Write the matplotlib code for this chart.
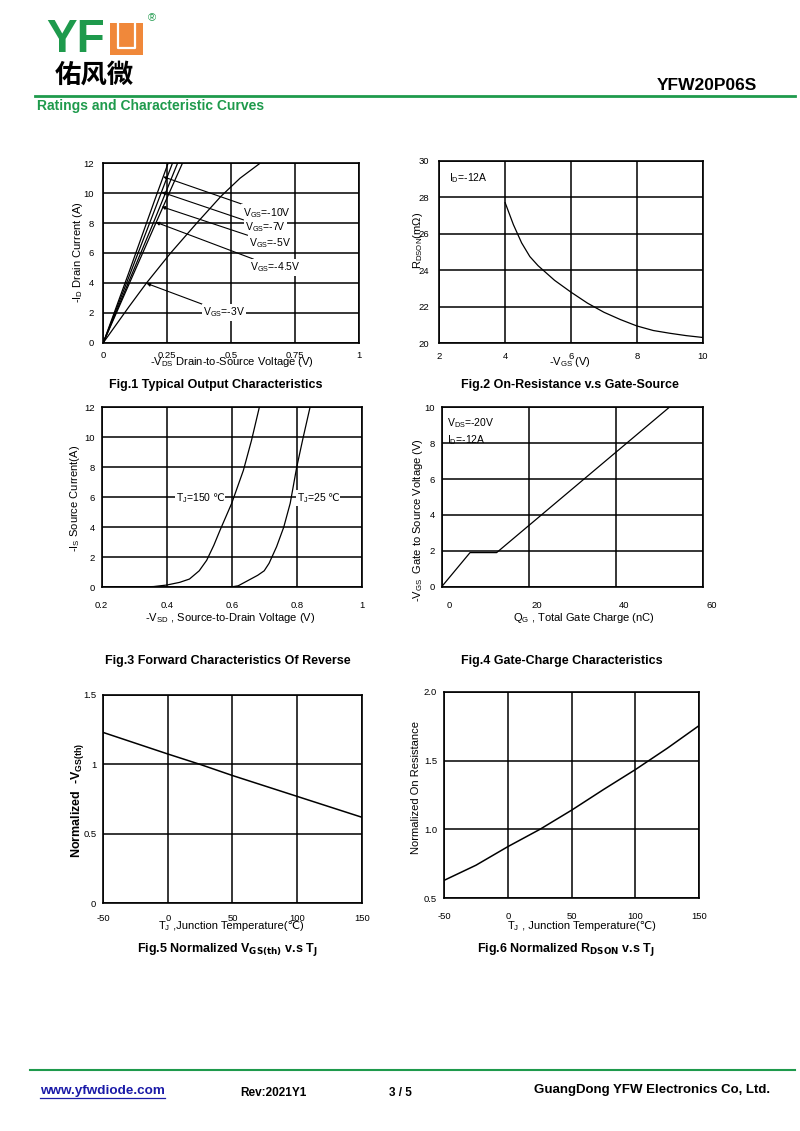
import numpy as np
import matplotlib
matplotlib.use("Agg")
import matplotlib.pyplot as plt
import matplotlib.patches as mpatches
import matplotlib.transforms as mtransforms

plt.rcParams['font.family'] = ['Liberation Sans', 'DejaVu Sans']
plt.rcParams['mathtext.fontset'] = 'custom'
plt.rcParams['mathtext.rm'] = 'Liberation Sans'
plt.rcParams['axes.unicode_minus'] = False

GREEN = '#1e9a4c'
ORANGE = '#f0883a'

# ---- data ----
# Fig.1 output characteristics (-VDS in V, -ID in A)
vds_10 = [0, 0.1, 0.2, 0.253]
id_10 = [0, 4.7, 9.5, 12]
vds_7 = [0, 0.1, 0.2, 0.27]
id_7 = [0, 4.4, 8.85, 12]
vds_5 = [0, 0.1, 0.2, 0.29]
id_5 = [0, 4.1, 8.2, 12]
vds_45 = [0, 0.1, 0.2, 0.309]
id_45 = [0, 3.9, 7.8, 12]
vds_3 = [0, 0.1, 0.169, 0.263, 0.365, 0.46, 0.534, 0.612]
id_3 = [0, 2.4, 4.0, 6.0, 8.0, 9.8, 11.0, 12.0]
fig1_labels = ['-10V', '-7V', '-5V', '-4.5V', '-3V']
fig1_tips = [(0.234, 11.1), (0.228, 10.07), (0.228, 9.1), (0.205, 8.06), (0.169, 3.97)]
fig1_textpos = [(0.544, 8.7), (0.553, 7.72), (0.569, 6.69), (0.573, 5.04), (0.39, 2.03)]

# Fig.2 RDS(on) vs -VGS
vgs2 = [4, 4.25, 4.5, 4.75, 5, 5.5, 6, 6.5, 7, 7.5, 8, 8.5, 9, 9.5, 10]
rds2 = [27.7, 26.5, 25.5, 24.75, 24.25, 23.45, 22.8, 22.2, 21.7, 21.3, 20.95, 20.7, 20.55, 20.42, 20.32]

# Fig.3 body diode forward characteristics
vsd_150 = [0.2, 0.3, 0.36, 0.4, 0.44, 0.47, 0.5, 0.523, 0.545, 0.564, 0.6, 0.636, 0.661, 0.685]
is_150 = [0, 0.01, 0.05, 0.15, 0.33, 0.55, 1.1, 1.8, 2.8, 3.8, 5.6, 7.8, 9.8, 12]
vsd_25 = [0.2, 0.5, 0.58, 0.6, 0.62, 0.65, 0.68, 0.7, 0.715, 0.738, 0.76, 0.78, 0.8, 0.82, 0.841]
is_25 = [0, 0, 0, 0.03, 0.1, 0.45, 0.8, 1.1, 1.6, 2.7, 4.0, 5.6, 8.0, 10.0, 12]

# Fig.4 gate charge
qg4 = [0, 6.5, 12.6, 52.2]
vgs4 = [0, 1.9, 1.9, 10]

# Fig.5 normalized VGS(th)
tj5 = [-50, 0, 25, 50, 100, 150]
vth5 = [1.23, 1.075, 1.0, 0.92, 0.77, 0.62]

# Fig.6 normalized RDS(on)
tj6 = [-50, -25, 0, 25, 50, 75, 100, 125, 150]
ron6 = [0.63, 0.74, 0.875, 1.0, 1.14, 1.29, 1.435, 1.59, 1.755]

W, H = 800, 1131
fig = plt.figure(figsize=(W / 100, H / 100), dpi=100)


def fpos(x, y):
    return x / W, 1 - y / H


def make_ax(L, R, T, B):
    ax = fig.add_axes([L / W, 1 - B / H, (R - L) / W, (B - T) / H])
    ax.grid(True, color='black', lw=1.1)
    ax.set_axisbelow(True)
    for s in ax.spines.values():
        s.set_linewidth(1.2)
    ax.tick_params(length=0, labelsize=6.8)
    return ax


def ftext(x, y, s, **kw):
    kw.setdefault('ha', 'center')
    kw.setdefault('va', 'center')
    return fig.text(*fpos(x, y), s, **kw)


# math part followed by a plain part (℃ only exists in the plain fonts)
def split_text(ax, first, rest, x, y, coords, size, box=False):
    bb = dict(fc='white', ec='none', pad=1) if box else None
    t1 = ax.annotate(first, xy=(x, y), xycoords=coords, fontsize=size, ha='left',
                     va='baseline', bbox=bb, annotation_clip=False, zorder=5)
    ax.annotate(rest, xy=(1, y), xycoords=(t1, coords), fontsize=size, ha='left',
                va='baseline', bbox=bb, annotation_clip=False, zorder=4)


# ---- header ----
ftext(46, 40, 'YF', fontsize=33, fontweight='bold', color=GREEN, ha='left')
fig.patches.append(mpatches.Rectangle(fpos(110, 55), 33 / W, 32 / H, transform=fig.transFigure,
                                      fc=ORANGE, ec='none'))
ux = [118 / W, 118 / W, 135 / W, 135 / W]
uy = [1 - 23 / H, 1 - 48 / H, 1 - 48 / H, 1 - 23 / H]
fig.lines.append(plt.Line2D(ux, uy, transform=fig.transFigure, color='white', lw=1.6))
ftext(152, 18, '®', fontsize=8, color=GREEN)
ftext(55, 75, '佑风微', fontsize=19, fontweight='bold', ha='left',
      family=['Noto Sans CJK SC', 'DejaVu Sans'])
ftext(757, 85, 'YFW20P06S', fontsize=12.5, fontweight='bold', ha='right')
fig.lines.append(plt.Line2D([35 / W, 795 / W], [1 - 96 / H] * 2, transform=fig.transFigure,
                            color=GREEN, lw=2))
ftext(37, 106, 'Ratings and Characteristic Curves', fontsize=10, fontweight='bold',
      color=GREEN, ha='left')

# ---- Fig.1 ----
ax1 = make_ax(103.3, 359.3, 163.3, 342.7)
for vx, iy in [(vds_10, id_10), (vds_7, id_7), (vds_5, id_5), (vds_45, id_45), (vds_3, id_3)]:
    ax1.plot(vx, iy, color='black', lw=0.9)
ax1.set_xlim(0, 1)
ax1.set_ylim(0, 12)
ax1.set_xticks([0, 0.25, 0.5, 0.75, 1])
ax1.set_xticklabels(['0', '0.25', '0.5', '0.75', '1'])
ax1.set_yticks(range(0, 13, 2))
ax1.tick_params(axis='x', pad=6)
ax1.tick_params(axis='y', pad=7)
for lab, tip, tp in zip(fig1_labels, fig1_tips, fig1_textpos):
    ax1.annotate('V$_\\mathregular{GS}$=' + lab, xy=tip, xytext=tp, fontsize=7.5,
                 ha='left', va='center',
                 bbox=dict(fc='white', ec='none', pad=1),
                 arrowprops=dict(arrowstyle='-|>', color='black', lw=0.8,
                                 mutation_scale=5, shrinkA=0, shrinkB=0))
ftext(78, 252, '-I$_\\mathregular{D}$ Drain Current (A)', fontsize=8, rotation=90)
ftext(232, 362, '-V$_\\mathregular{DS}$ Drain-to-Source Voltage (V)', fontsize=8)
ftext(216, 385, 'Fig.1 Typical Output Characteristics', fontsize=9, fontweight='bold')

# ---- Fig.2 ----
ax2 = make_ax(439.3, 702.7, 160.7, 343.3)
ax2.plot(vgs2, rds2, color='black', lw=0.9)
ax2.set_xlim(2, 10)
ax2.set_ylim(20, 30)
ax2.set_xticks(range(2, 11, 2))
ax2.set_yticks(range(20, 31, 2))
ax2.tick_params(axis='x', pad=6)
ax2.tick_params(axis='y', pad=7)
ax2.text(2.3, 29.05, 'I$_\\mathregular{D}$=-12A', fontsize=7.5, va='center')
ftext(418, 240, 'R$_\\mathregular{DSON}$(mΩ)', fontsize=8, rotation=90)
ftext(570, 362, '-V$_\\mathregular{GS}$ (V)', fontsize=8)
ftext(570, 385, 'Fig.2 On-Resistance v.s Gate-Source', fontsize=9, fontweight='bold')

# ---- Fig.3 ----
ax3 = make_ax(101.7, 361.7, 407.3, 587.3)
ax3.plot(vsd_150, is_150, color='black', lw=0.9)
ax3.plot(vsd_25, is_25, color='black', lw=0.9)
ax3.set_xlim(0.2, 1)
ax3.set_ylim(0, 12)
ax3.set_xticks([0.2, 0.4, 0.6, 0.8, 1])
ax3.set_xticklabels(['0.2', '0.4', '0.6', '0.8', '1'])
ax3.set_yticks(range(0, 13, 2))
ax3.tick_params(axis='x', pad=10)
ax3.tick_params(axis='y', pad=5)
split_text(ax3, 'T$_\\mathregular{J}$=150', '℃', 0.43, 5.75, 'data', 7.5, box=True)
split_text(ax3, 'T$_\\mathregular{J}$=25', '℃', 0.802, 5.75, 'data', 7.5, box=True)
ftext(75, 498, '-I$_\\mathregular{S}$ Source Current(A)', fontsize=8, rotation=90)
ftext(230, 618, '-V$_\\mathregular{SD}$ , Source-to-Drain Voltage (V)', fontsize=8)
ftext(228, 661, 'Fig.3 Forward Characteristics Of Reverse', fontsize=9, fontweight='bold')

# ---- Fig.4 ----
ax4 = make_ax(441.7, 703.3, 407.3, 586.7)
ax4.plot(qg4, vgs4, color='black', lw=0.9)
ax4.set_xlim(0, 60)
ax4.set_ylim(0, 10)
ax4.set_xticks(range(0, 61, 20))
ax4.set_yticks(range(0, 11, 2))
ax4.tick_params(axis='x', pad=10)
ax4.tick_params(axis='y', pad=5)
shift = mtransforms.ScaledTranslation(0.08, 0, fig.dpi_scale_trans)
for lab in ax4.get_xticklabels():
    lab.set_transform(lab.get_transform() + shift)
ax4.text(1.2, 9.1, 'V$_\\mathregular{DS}$=-20V', fontsize=7.5, va='center')
ax4.text(1.2, 8.15, 'I$_\\mathregular{D}$=-12A', fontsize=7.5, va='center')
ftext(418, 520, '-V$_\\mathregular{GS}$  Gate to Source Voltage (V)', fontsize=8, rotation=90)
ftext(584, 618, 'Q$_\\mathregular{G}$ , Total Gate Charge (nC)', fontsize=8)
ftext(562, 661, 'Fig.4 Gate-Charge Characteristics', fontsize=9, fontweight='bold')

# ---- Fig.5 ----
ax5 = make_ax(103.3, 361.7, 695, 903.3)
ax5.plot(tj5, vth5, color='black', lw=1.1)
ax5.set_xlim(-50, 150)
ax5.set_ylim(0, 1.5)
ax5.set_xticks(range(-50, 151, 50))
ax5.set_yticks([0, 0.5, 1, 1.5])
ax5.set_yticklabels(['0', '0.5', '1', '1.5'])
ax5.tick_params(axis='x', pad=8)
ax5.tick_params(axis='y', pad=5)
ftext(78, 800, 'Normalized  -V$_\\mathregular{GS(th)}$', fontsize=9, fontweight='bold', rotation=90)
split_text(ax5, 'T$_\\mathregular{J}$', ' ,Junction Temperature(℃)', *fpos(158, 929),
           'figure fraction', 8)
ftext(227, 950, 'Fig.5 Normalized V$_\\mathbf{GS(th)}$ v.s T$_\\mathbf{J}$', fontsize=9,
      fontweight='bold')

# ---- Fig.6 ----
ax6 = make_ax(444, 699.3, 691.7, 898.3)
ax6.plot(tj6, ron6, color='black', lw=1.1)
ax6.set_xlim(-50, 150)
ax6.set_ylim(0.5, 2.0)
ax6.set_xticks(range(-50, 151, 50))
ax6.set_yticks([0.5, 1.0, 1.5, 2.0])
ax6.set_yticklabels(['0.5', '1.0', '1.5', '2.0'])
ax6.tick_params(axis='x', pad=10)
ax6.tick_params(axis='y', pad=5)
ftext(416, 787, 'Normalized On Resistance', fontsize=8, rotation=90)
split_text(ax6, 'T$_\\mathregular{J}$', ' , Junction Temperature(℃)', *fpos(507, 929),
           'figure fraction', 8)
ftext(566, 950, 'Fig.6 Normalized R$_\\mathbf{DSON}$ v.s T$_\\mathbf{J}$', fontsize=9,
      fontweight='bold')

# ---- footer ----
fig.lines.append(plt.Line2D([30 / W, 795 / W], [1 - 1070 / H] * 2, transform=fig.transFigure,
                            color=GREEN, lw=1.5))
ftext(40, 1091, 'www.yfwdiode.com', fontsize=9.7, fontweight='bold', color='#1a1aa8', ha='left')
fig.lines.append(plt.Line2D([40 / W, 165 / W], [1 - 1098 / H] * 2, transform=fig.transFigure,
                            color='#1a1aa8', lw=0.9))
ftext(240, 1093, 'Rev:2021Y1', fontsize=8.5, fontweight='bold', ha='left')
ftext(389, 1093, '3 / 5', fontsize=8.5, fontweight='bold', ha='left')
ftext(770, 1090, 'GuangDong YFW Electronics Co, Ltd.', fontsize=9.5, fontweight='bold', ha='right')

fig.savefig('out.png', dpi=100)
